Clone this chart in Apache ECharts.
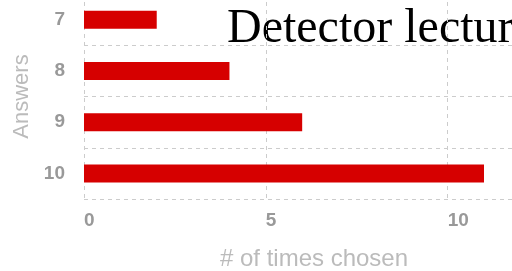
<!DOCTYPE html>
<html>
<head>
<meta charset="utf-8">
<script src="https://cdn.jsdelivr.net/npm/echarts@6/dist/echarts.min.js"></script>
<style>
  html, body { margin: 0; padding: 0; background: #fff; }
  #chart { width: 512px; height: 271px; }
</style>
</head>
<body>
<div id="chart"></div>
<script>
// answers on the y axis, counts on the x axis
var answers = ['7', '8', '9', '10'];
var timesChosen = [2, 4, 6, 11];
var xTicks = [0, 5, 10];

var chart = echarts.init(document.getElementById('chart'));

var option = {
    animation: false,
    // the plot runs past the right edge of the picture (cropped original)
    grid: { left: 84, top: -6, width: 460, height: 205, containLabel: false, outerBoundsMode: 'none' },
    xAxis: {
        type: 'value',
        min: 0,
        max: 12.65,
        interval: 5,
        name: '# of times chosen',
        nameLocation: 'middle',
        nameGap: 48,
        nameTextStyle: { color: '#bbb', fontSize: 24, fontFamily: 'Liberation Sans' },
        axisLine: { show: false },
        axisTick: { show: false },
        axisLabel: {
            color: '#999', fontSize: 19, fontWeight: 'bold', fontFamily: 'Liberation Sans', margin: 12,
            align: 'left',
            formatter: function (v) { return xTicks.indexOf(v) >= 0 ? String(v) : ''; }
        },
        splitLine: { lineStyle: { color: '#ccc', type: [4, 4], width: 1 } }
    },
    yAxis: {
        type: 'category',
        inverse: true,
        data: answers,
        name: 'Answers',
        nameLocation: 'middle',
        nameGap: 50,
        nameTextStyle: { color: '#bbb', fontSize: 22, fontFamily: 'Liberation Sans' },
        axisLine: { show: false },
        axisTick: { show: false },
        axisLabel: { color: '#999', fontSize: 19, fontWeight: 'bold', fontFamily: 'Liberation Sans', margin: 19 },
        splitLine: { show: true, lineStyle: { color: '#ccc', type: [4, 4], width: 1 } }
    },
    series: [{
        type: 'bar',
        data: timesChosen,
        barWidth: 18,
        itemStyle: { color: '#d60000' }
    }],
    graphic: [{
        type: 'text',
        left: 227,
        top: 5,
        style: {
            text: 'Detector lecture',
            font: '48px "Liberation Serif"',
            fill: '#000'
        }
    }]
};

chart.setOption(option);
</script>
</body>
</html>
